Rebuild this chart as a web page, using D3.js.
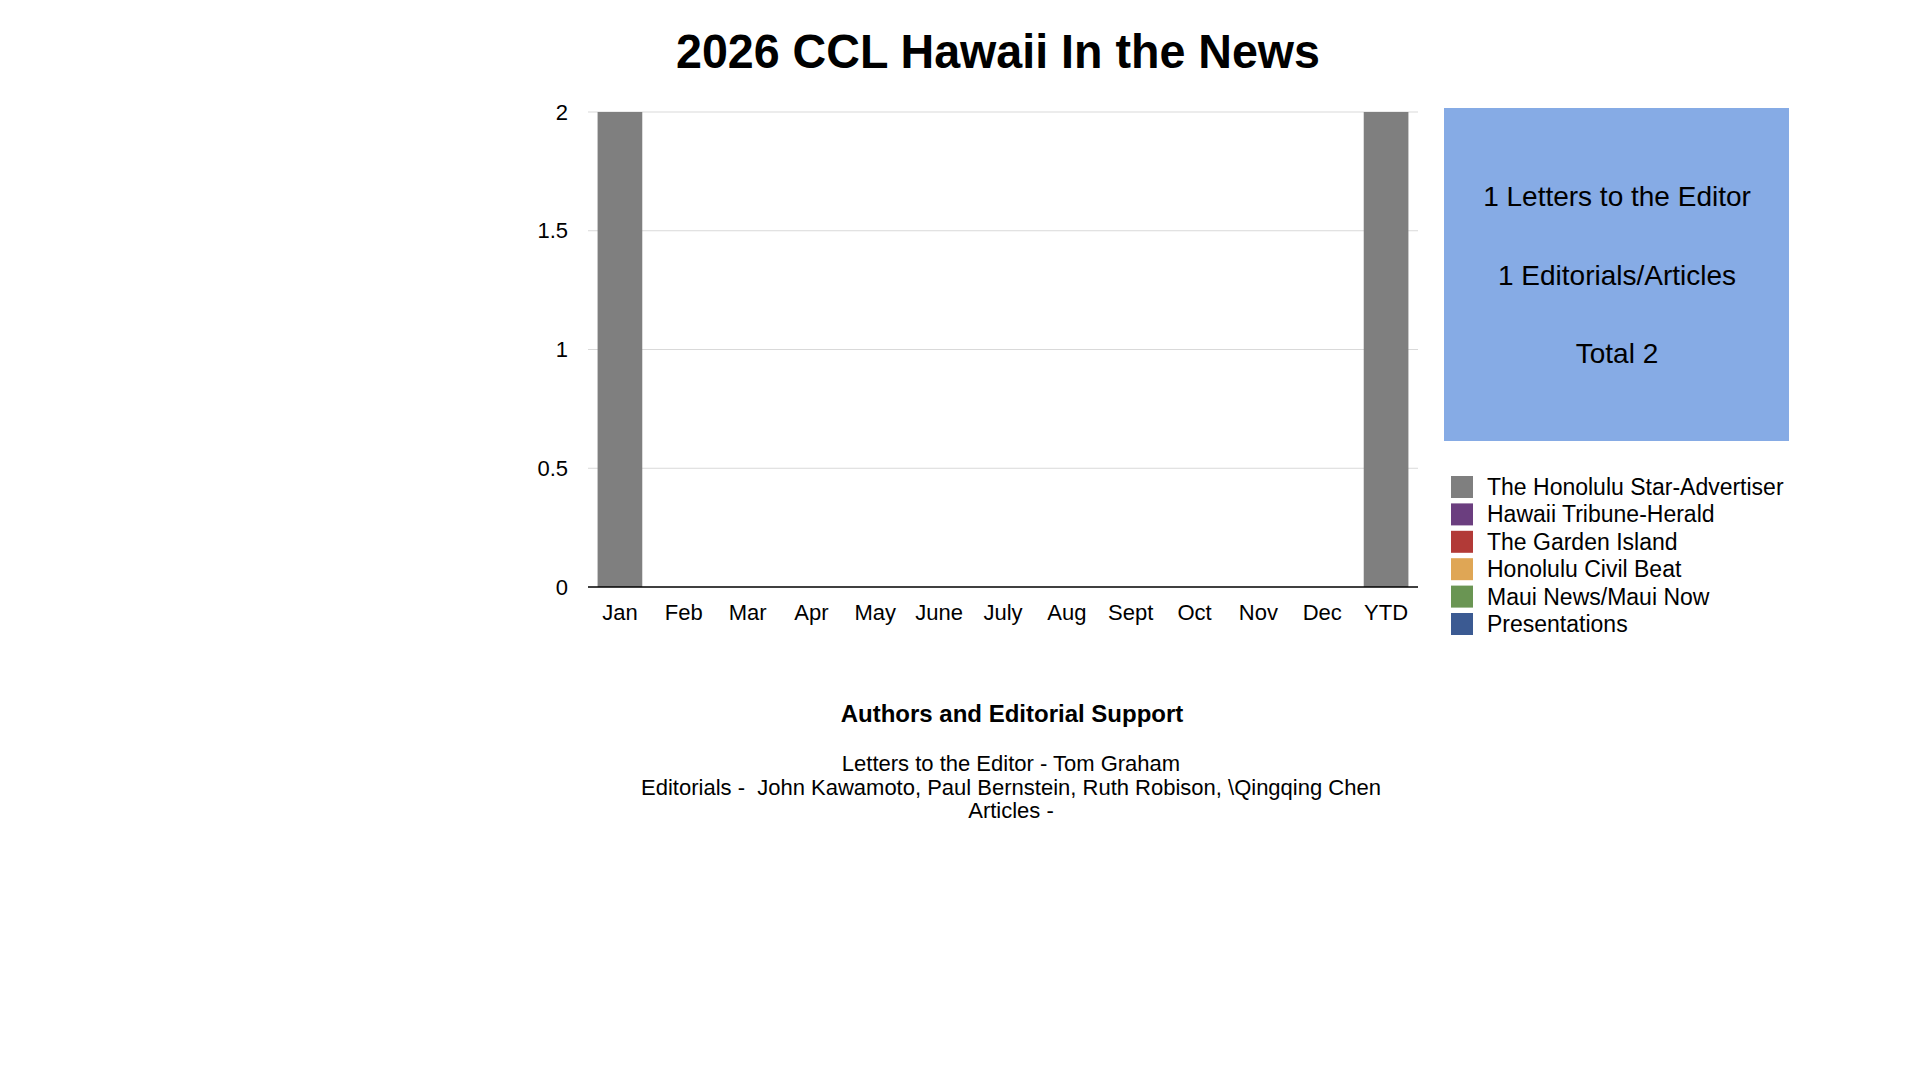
<!DOCTYPE html>
<html>
<head>
<meta charset="utf-8">
<script src="https://cdn.jsdelivr.net/npm/d3@7"></script>
<style>
  body { margin: 0; background: #fff; }
  text { font-family: "Liberation Sans", Arial, Helvetica, sans-serif; fill: #000; }
</style>
</head>
<body>
<svg id="chart" width="1920" height="1080"></svg>
<script>
// categories along the x axis
const months = ['Jan', 'Feb', 'Mar', 'Apr', 'May', 'June', 'July', 'Aug', 'Sept', 'Oct', 'Nov', 'Dec', 'YTD'];

// one array per outlet, same order as months
const starAdvertiser = [2, 0, 0, 0, 0, 0, 0, 0, 0, 0, 0, 0, 2];
const tribuneHerald  = [0, 0, 0, 0, 0, 0, 0, 0, 0, 0, 0, 0, 0];
const gardenIsland   = [0, 0, 0, 0, 0, 0, 0, 0, 0, 0, 0, 0, 0];
const civilBeat      = [0, 0, 0, 0, 0, 0, 0, 0, 0, 0, 0, 0, 0];
const mauiNews       = [0, 0, 0, 0, 0, 0, 0, 0, 0, 0, 0, 0, 0];
const presentations  = [0, 0, 0, 0, 0, 0, 0, 0, 0, 0, 0, 0, 0];

const seriesNames = ['The Honolulu Star-Advertiser', 'Hawaii Tribune-Herald', 'The Garden Island',
  'Honolulu Civil Beat', 'Maui News/Maui Now', 'Presentations'];
const seriesColors = ['#7f7f7f', '#6b3e7f', '#b23a37', '#dfa655', '#6a9553', '#3b5a92'];

const yTicks = [0, 0.5, 1, 1.5, 2];

const summaryLines = ['1 Letters to the Editor', '1 Editorials/Articles', 'Total 2'];

const creditsTitle = 'Authors and Editorial Support';
const creditsLines = [
  'Letters to the Editor - Tom Graham',
  'Editorials -  John Kawamoto, Paul Bernstein, Ruth Robison, \\Qingqing Chen',
  'Articles -'
];

const svg = d3.select('#chart');

// build a table for d3.stack from the arrays above
const allSeries = [starAdvertiser, tribuneHerald, gardenIsland, civilBeat, mauiNews, presentations];
const table = months.map((m, i) => {
  const row = { month: m };
  seriesNames.forEach((name, s) => { row[name] = allSeries[s][i]; });
  return row;
});
const stacked = d3.stack().keys(seriesNames)(table);

const x = d3.scaleBand().domain(months).range([588, 1418]).paddingInner(0.3).paddingOuter(0.15);
const y = d3.scaleLinear().domain([0, 2]).range([587, 112]);

// title
svg.append('text')
  .attr('x', 676).attr('y', 68)
  .attr('textLength', 644).attr('lengthAdjust', 'spacingAndGlyphs')
  .style('font-size', '48px').style('font-weight', 'bold')
  .text('2026 CCL Hawaii In the News');

// gridlines
svg.append('g').selectAll('line').data(yTicks.filter(d => d > 0)).enter().append('line')
  .attr('x1', 588).attr('x2', 1418)
  .attr('y1', d => y(d)).attr('y2', d => y(d))
  .attr('stroke', '#d9d9d9').attr('stroke-width', 1);

// y axis labels
const yAxis = svg.append('g').attr('transform', 'translate(588,0)')
  .call(d3.axisLeft(y).tickValues(yTicks).tickFormat(d3.format('~g')).tickSize(0).tickPadding(20));
yAxis.select('.domain').remove();
yAxis.selectAll('text').style('font-size', '22px').style('font-family', '"Liberation Sans", Arial, sans-serif').attr('fill', '#000');

// bars
svg.append('g').selectAll('g').data(stacked).enter().append('g')
  .attr('fill', (d, i) => seriesColors[i])
  .selectAll('rect').data(d => d).enter().append('rect')
  .attr('x', d => x(d.data.month))
  .attr('width', x.bandwidth())
  .attr('y', d => y(d[1]))
  .attr('height', d => y(d[0]) - y(d[1]));

// x axis
const xAxis = svg.append('g').attr('transform', `translate(0,${y(0)})`)
  .call(d3.axisBottom(x).tickSize(0).tickPadding(17));
xAxis.select('.domain').attr('stroke', '#000').attr('stroke-width', 1.5).attr('d', 'M588,0H1418');
xAxis.selectAll('text').style('font-size', '22px').style('font-family', '"Liberation Sans", Arial, sans-serif').attr('fill', '#000');

// summary box
svg.append('rect').attr('x', 1444).attr('y', 108).attr('width', 345).attr('height', 333).attr('fill', '#86abe5');
svg.append('g').selectAll('text').data(summaryLines).enter().append('text')
  .attr('x', 1617).attr('y', (d, i) => 206 + i * 78.5)
  .attr('text-anchor', 'middle')
  .style('font-size', '28px')
  .text(d => d);

// legend
const legend = svg.append('g').selectAll('g').data(seriesNames).enter().append('g')
  .attr('transform', (d, i) => `translate(1451,${476 + i * 27.4})`);
legend.append('rect').attr('width', 22).attr('height', 22).attr('fill', (d, i) => seriesColors[i]);
legend.append('text').attr('x', 36).attr('y', 19).style('font-size', '23px').text(d => d);

// credits
svg.append('text').attr('x', 1012).attr('y', 722).attr('text-anchor', 'middle')
  .style('font-size', '24px').style('font-weight', 'bold').text(creditsTitle);
svg.append('g').selectAll('text').data(creditsLines).enter().append('text')
  .attr('x', 1011).attr('y', (d, i) => 771 + i * 23.5)
  .attr('text-anchor', 'middle')
  .style('font-size', '22px').style('white-space', 'pre')
  .text(d => d);
</script>
</body>
</html>
